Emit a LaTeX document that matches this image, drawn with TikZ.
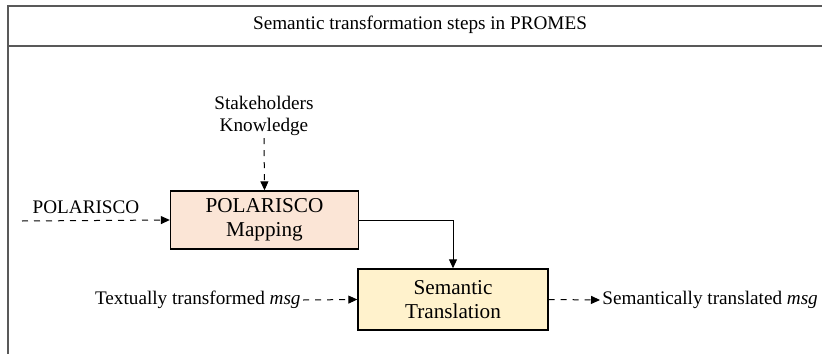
\documentclass[tikz,border=0pt]{standalone}
\usepackage{fontspec}
\setmainfont{Liberation Serif}
\usetikzlibrary{arrows.meta}
\definecolor{mapfill}{HTML}{FBE5D6}
\definecolor{transfill}{HTML}{FFF2CC}
\begin{document}
\begin{tikzpicture}[x=0.5pt,y=-0.5pt,
	stepbox/.style={draw,line width=0.7pt,align=center,font=\fontsize{10.6}{12}\selectfont},
	lbl/.style={font=\fontsize{9.6}{11}\selectfont,inner sep=1pt},
	arr/.style={-{Triangle[length=4.5pt,width=4pt]},line width=0.5pt}]
	\useasboundingbox (0,0) rectangle (822,353);
	
	% frame
	\draw[line width=1pt,black!65] (8,360) -- (8,6) -- (830,6) (8,46) -- (830,46);
	\node[lbl] (title) at (420,25) {Semantic transformation steps in PROMES};
	
	\node[stepbox,fill=mapfill,minimum width=94pt,minimum height=29pt] (map) at (264.5,220) {POLARISCO\\Mapping};
	\node[stepbox,fill=transfill,minimum width=95pt,minimum height=30.5pt] (sem) at (453,299.5) {Semantic\\Translation};
	
	\node[lbl,align=center] (stake) at (264,116) {Stakeholders\\Knowledge};
	\node[lbl] (pol) at (86,207) {POLARISCO};
	\coordinate (polstart) at (22,221);
	\node[lbl,anchor=east] (txt) at (303,300) {Textually transformed \textit{msg}};
	\node[lbl,anchor=west] (out) at (600,300) {Semantically translated \textit{msg}};
	
	\draw[arr,dashed] (stake.south) -- (map.north);
	\draw[arr,dashed] (polstart) -- (map.west);
	\draw[arr] (map.east) -| (sem.north);
	\draw[arr,dashed] (txt.east) -- (sem.west);
	\draw[arr,dashed] (sem.east) -- (out.west);
\end{tikzpicture}
\end{document}
